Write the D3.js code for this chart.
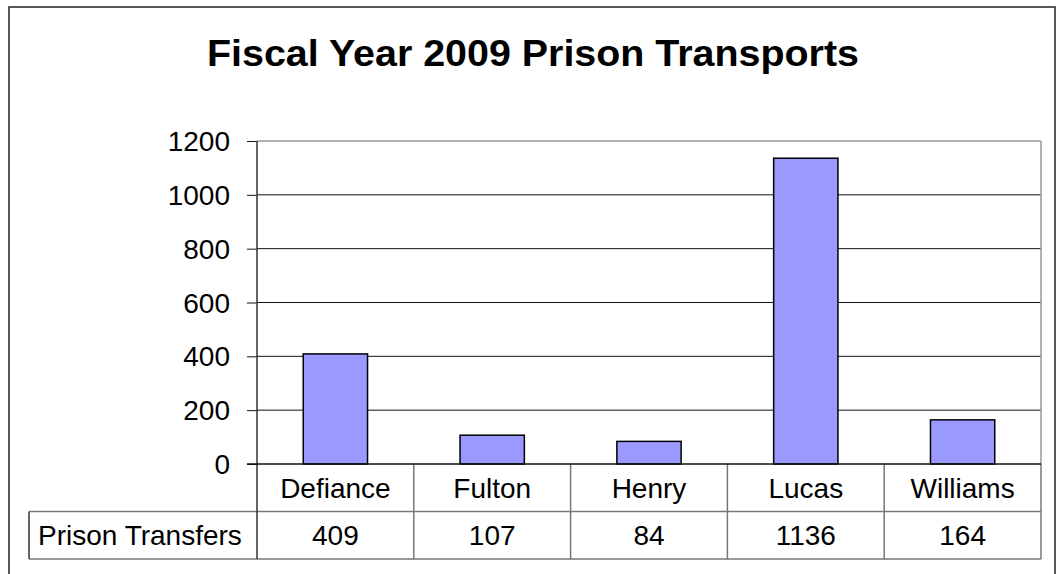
<!DOCTYPE html>
<html>
<head>
<meta charset="utf-8">
<script src="https://cdn.jsdelivr.net/npm/d3@7"></script>
<style>
  body { margin: 0; background: #fff; }
  svg { display: block; font-family: Arial, "Liberation Sans", sans-serif; }
  .tick text { font-size: 28px; fill: #000; }
</style>
</head>
<body>
<svg width="1058" height="574"></svg>
<script>
  const titleText = 'Fiscal Year 2009 Prison Transports';
  const seriesName = 'Prison Transfers';
  const categories = ['Defiance', 'Fulton', 'Henry', 'Lucas', 'Williams'];
  const transfers = [409, 107, 84, 1136, 164];
  const yTicks = [0, 200, 400, 600, 800, 1000, 1200];

  const svg = d3.select('svg');

  // plot box
  const plot = { left: 257, right: 1041, top: 141, bottom: 464 };
  const rowH = 47.5;  // height of each data-table row
  const tableLeft = 29;

  // outer chart border (bottom edge runs off the picture)
  svg.append('rect')
    .attr('x', 9).attr('y', 7)
    .attr('width', 1046).attr('height', 600)
    .attr('fill', 'none')
    .attr('stroke', '#222')
    .attr('stroke-width', 1.5);

  svg.append('text')
    .attr('x', 533).attr('y', 66)
    .attr('text-anchor', 'middle')
    .attr('font-size', 36)
    .attr('font-weight', 'bold')
    .attr('textLength', 652)
    .attr('lengthAdjust', 'spacingAndGlyphs')
    .text(titleText);

  const yScale = d3.scaleLinear()
    .domain([0, d3.max(yTicks)])
    .range([plot.bottom, plot.top]);

  const xScale = d3.scaleBand()
    .domain(categories)
    .range([plot.left, plot.right])
    .paddingInner(0.59)
    .paddingOuter(0.295);

  // gridlines (top one is the grey plot border)
  svg.append('g')
    .selectAll('line')
    .data(yTicks.filter(t => t > 0))
    .join('line')
      .attr('x1', plot.left).attr('x2', plot.right)
      .attr('y1', d => yScale(d)).attr('y2', d => yScale(d))
      .attr('stroke', d => d === d3.max(yTicks) ? '#999' : '#111')
      .attr('stroke-width', d => d === d3.max(yTicks) ? 1.5 : 1);

  // right plot border
  svg.append('line')
    .attr('x1', plot.right).attr('x2', plot.right)
    .attr('y1', plot.top).attr('y2', plot.bottom)
    .attr('stroke', '#999').attr('stroke-width', 1.5);

  // bars
  svg.append('g')
    .selectAll('rect')
    .data(transfers)
    .join('rect')
      .attr('x', (d, i) => xScale(categories[i]))
      .attr('y', d => yScale(d))
      .attr('width', xScale.bandwidth())
      .attr('height', d => yScale(0) - yScale(d))
      .attr('fill', '#9999ff')
      .attr('stroke', '#000')
      .attr('stroke-width', 1.5);

  // y axis
  const yAxisG = svg.append('g')
    .attr('transform', `translate(${plot.left},0)`)
    .call(d3.axisLeft(yScale)
      .tickValues(yTicks)
      .tickFormat(d3.format('d'))
      .tickSize(10)
      .tickPadding(17));
  yAxisG.select('.domain').remove();
  yAxisG.selectAll('.tick line').attr('stroke', '#111');
  yAxisG.selectAll('.tick text').attr('dy', '0.34em');

  // data table grid
  const tableG = svg.append('g');
  const row1 = plot.bottom + rowH;
  const row2 = plot.bottom + 2 * rowH;
  tableG.selectAll('line.h')
    .data([row1, row2])
    .join('line')
      .attr('class', 'h')
      .attr('x1', tableLeft).attr('x2', plot.right)
      .attr('y1', d => d).attr('y2', d => d)
      .attr('stroke', '#777').attr('stroke-width', 1.5);

  const colEdges = categories.map(c => xScale(c) - xScale.step() * xScale.paddingInner() / 2)
    .concat([plot.right]);
  tableG.selectAll('line.v')
    .data(colEdges)
    .join('line')
      .attr('class', 'v')
      .attr('x1', d => d).attr('x2', d => d)
      .attr('y1', (d, i) => i === 0 ? plot.top : plot.bottom)
      .attr('y2', row2)
      .attr('stroke', (d, i) => i === 0 ? '#333' : '#777')
      .attr('stroke-width', 1.5);

  tableG.append('line')
    .attr('x1', tableLeft).attr('x2', tableLeft)
    .attr('y1', row1).attr('y2', row2)
    .attr('stroke', '#333').attr('stroke-width', 1.5);

  // x axis line
  svg.append('line')
    .attr('x1', plot.left - 10).attr('x2', plot.right)
    .attr('y1', plot.bottom).attr('y2', plot.bottom)
    .attr('stroke', '#111').attr('stroke-width', 1.5);

  // category labels
  tableG.selectAll('text.cat')
    .data(categories)
    .join('text')
      .attr('class', 'cat')
      .attr('x', d => xScale(d) + xScale.bandwidth() / 2)
      .attr('y', plot.bottom + rowH / 2 + 10)
      .attr('text-anchor', 'middle')
      .attr('font-size', 28)
      .text(d => d);

  // value cells
  tableG.selectAll('text.val')
    .data(transfers)
    .join('text')
      .attr('class', 'val')
      .attr('x', (d, i) => xScale(categories[i]) + xScale.bandwidth() / 2)
      .attr('y', row1 + rowH / 2 + 10)
      .attr('text-anchor', 'middle')
      .attr('font-size', 28)
      .text(d => d);

  tableG.append('text')
    .attr('x', 38)
    .attr('y', row1 + rowH / 2 + 10)
    .attr('font-size', 28)
    .text(seriesName);
</script>
</body>
</html>
